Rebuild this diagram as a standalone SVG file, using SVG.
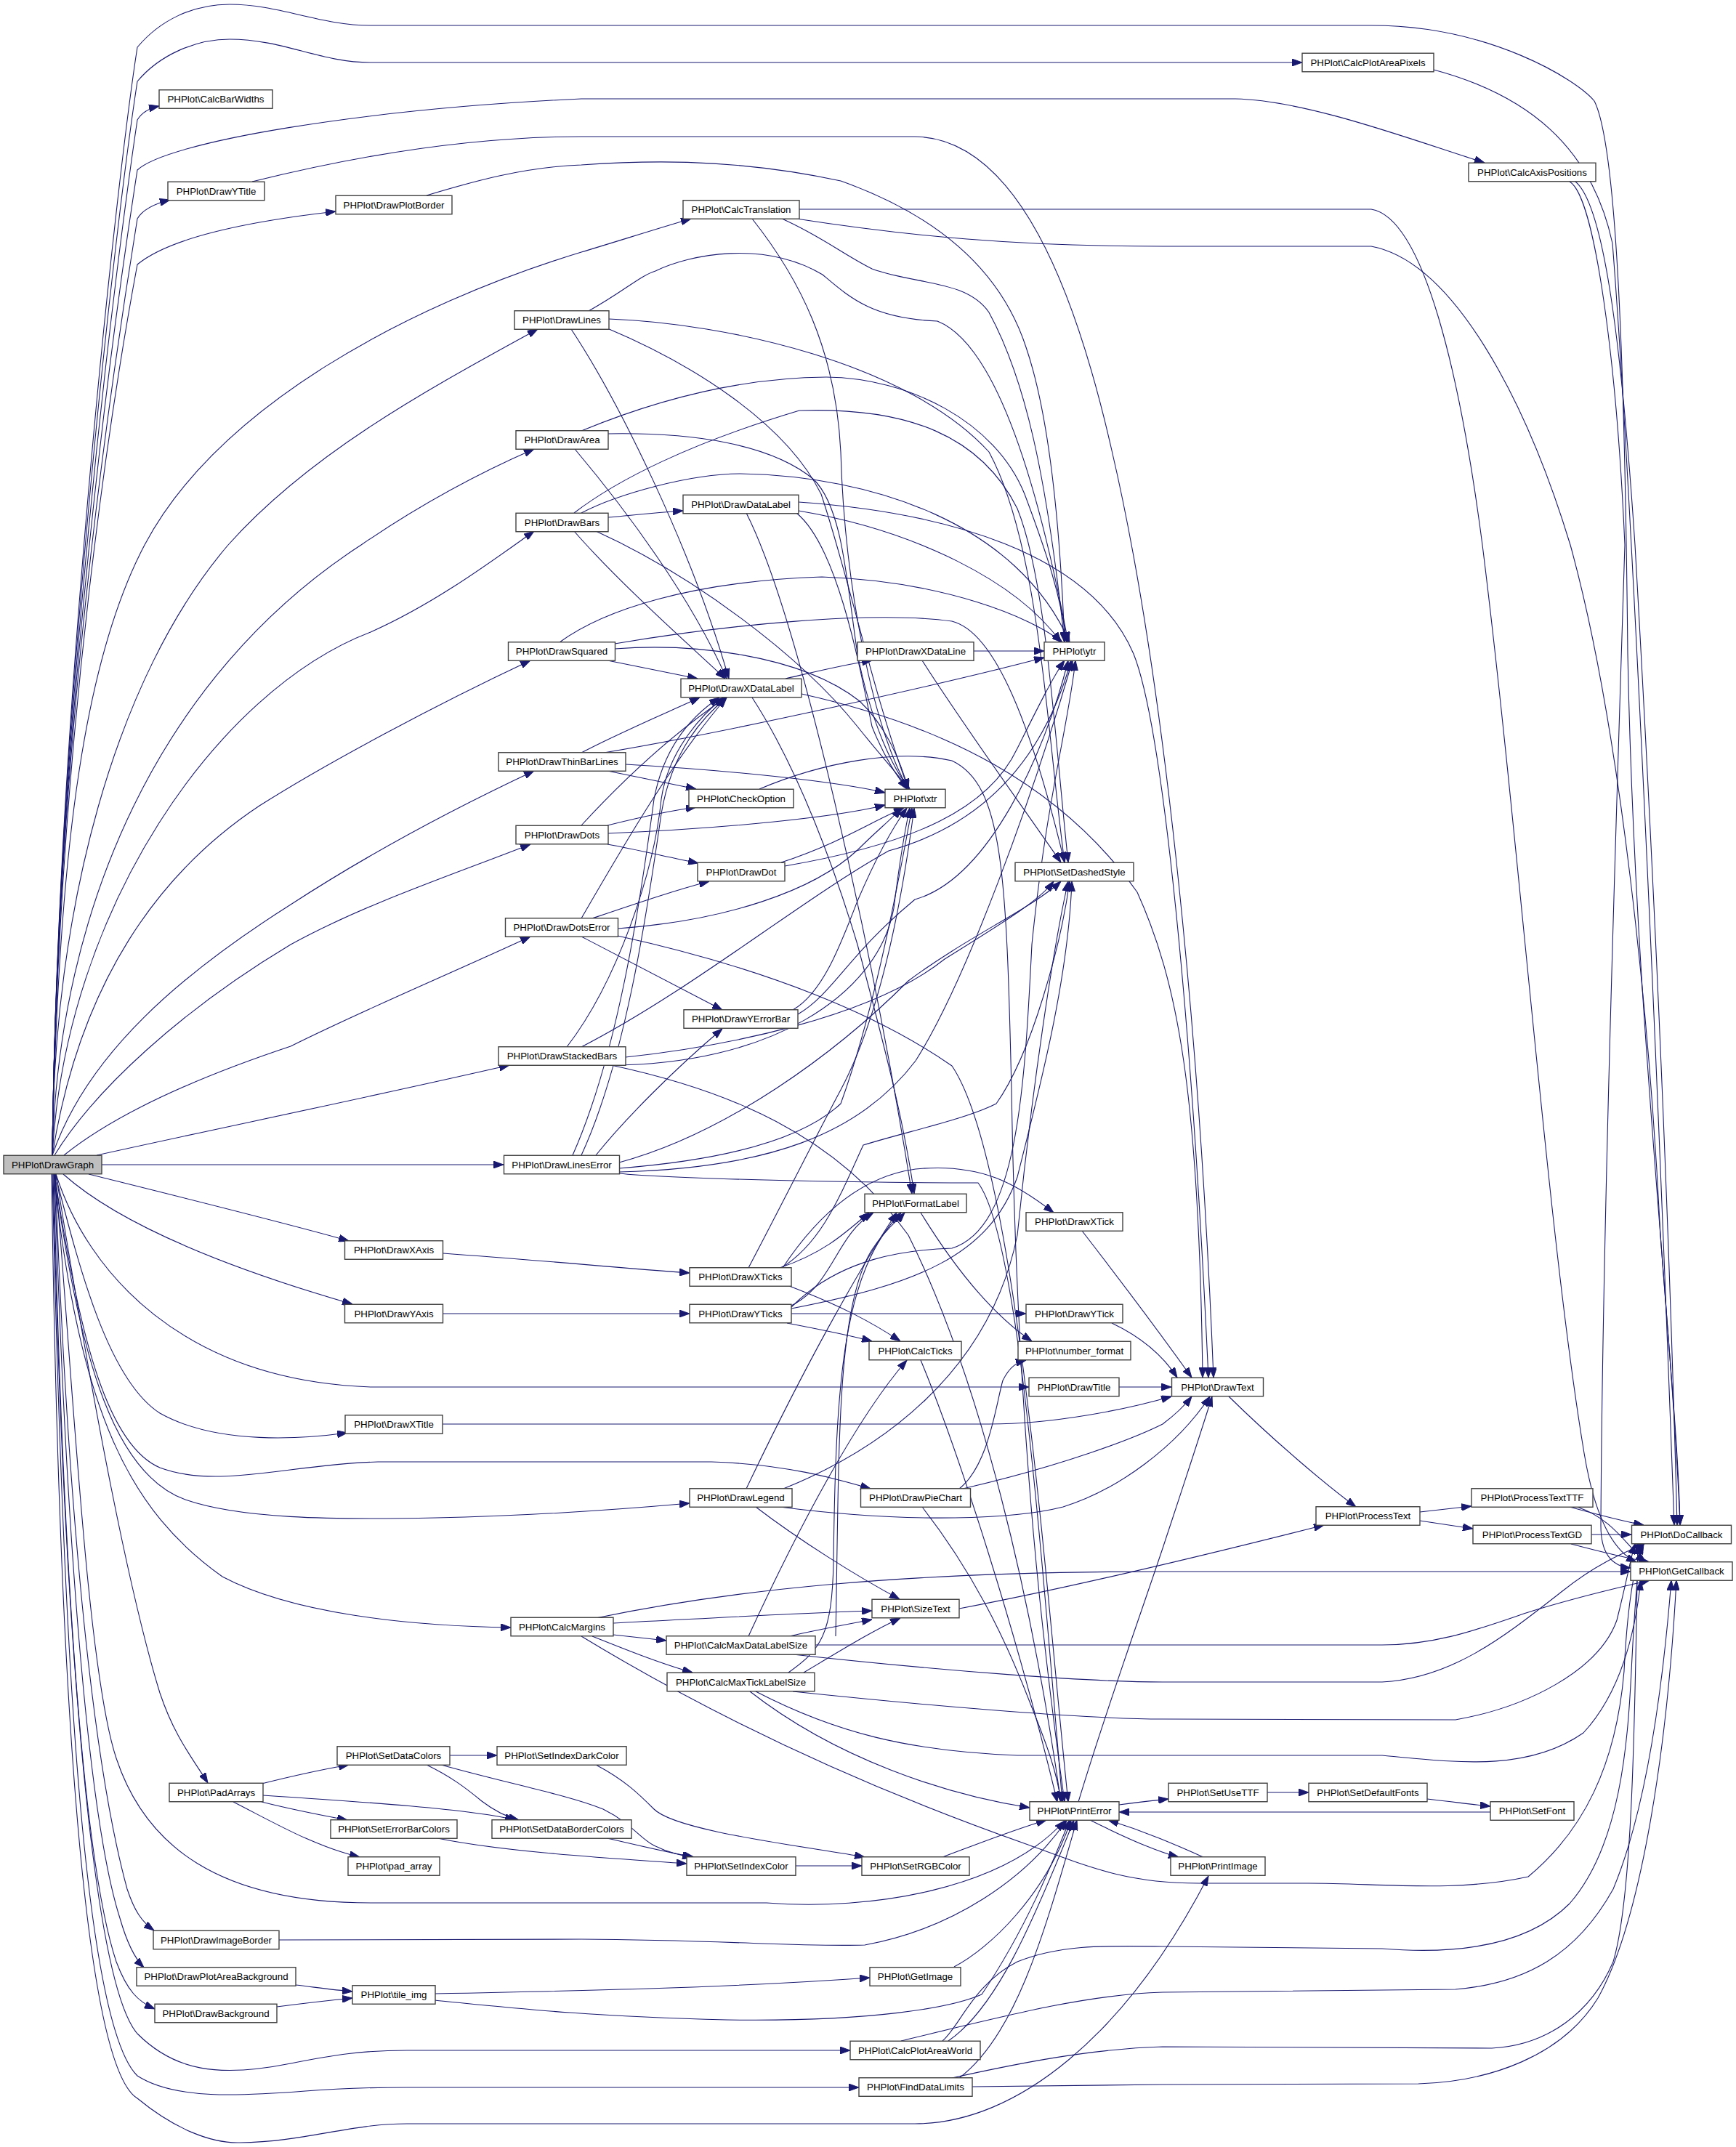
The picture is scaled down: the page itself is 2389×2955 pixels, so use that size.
<svg xmlns="http://www.w3.org/2000/svg" width="2389" height="2955" viewBox="0 0 2389 2955">
<style>
.edges path{fill:none;stroke:#191970;stroke-width:1.1;marker-end:url(#ah)}
.node rect{fill:#ffffff;stroke:#404040;stroke-width:1.4}
.node text{font-family:"Liberation Sans",Arial,sans-serif;font-size:13.3px;fill:#000000;text-anchor:middle}
#n-DrawGraph rect{fill:#bfbfbf}
</style>
<defs>
<marker id="ah" viewBox="0 0 14 10" refX="14" refY="5" markerWidth="14" markerHeight="10" markerUnits="userSpaceOnUse" orient="auto"><path d="M0,0 L14,5 L0,10 z" fill="#191970" stroke="#191970"/></marker>
</defs>
<rect width="2389" height="2955" fill="#ffffff"/>
<g id="edges" class="edges">
<path d="M72,1590 C78,1000 160,250 189,65 C220,28 265,6 316,6 C385,6 440,35 510,35 L1887,35 C2050,35 2170,110 2194,139 C2225,200 2236,500 2240,900 C2250,1400 2300,1800 2312,2099"/>
<path d="M72,1590 C78,1000 160,300 189,112 C220,75 270,54 316,54 C390,54 440,86 510,86 L1792,86"/>
<path d="M72,1590 C78,1000 160,360 189,165 C195,155 205,149 219,146"/>
<path d="M72,1590 C78,1000 160,420 189,234 C230,195 500,150 800,136 L1700,136 C1800,138 1950,195 2043,224"/>
<path d="M72,1590 C78,1000 160,480 189,301 C196,289 210,281 234,275"/>
<path d="M72,1590 C80,1000 160,520 189,364 C230,330 330,306 462,291"/>
<path d="M72,1590 C80,1150 120,900 199,750 C300,560 560,420 800,347 C850,332 900,316 951,301"/>
<path d="M72,1590 C72,1250 160,930 314,750 C430,620 600,530 740,453"/>
<path d="M72,1590 C80,1250 220,930 497,750 C570,700 650,655 735,618"/>
<path d="M72,1590 C90,1250 300,950 510,870 C600,830 680,770 735,731"/>
<path d="M72,1590 C110,1350 220,1200 357,1109 C450,1050 600,970 730,909"/>
<path d="M72,1590 C120,1450 250,1340 400,1245 C500,1180 620,1115 735,1061"/>
<path d="M75,1590 C130,1500 250,1390 400,1300 C500,1245 620,1205 730,1162"/>
<path d="M88,1590 C150,1540 250,1490 400,1440 C500,1390 620,1340 730,1289"/>
<path d="M133,1590 C300,1553 500,1512 701,1466"/>
<path d="M140,1603 L693,1603"/>
<path d="M122,1616 C250,1648 400,1685 480,1708"/>
<path d="M87,1616 C170,1690 330,1750 485,1795"/>
<path d="M77,1616 C120,1750 250,1900 510,1909 L1416,1909"/>
<path d="M76,1616 C110,1750 150,1900 220,1945 C300,1990 420,1980 478,1972"/>
<path d="M75,1616 C110,1850 150,1990 220,2020 C300,2050 400,2015 520,2012 L979,2012 C1080,2015 1150,2035 1198,2049"/>
<path d="M75,1616 C110,1880 160,2030 255,2064 C330,2090 450,2092 600,2089 C750,2086 870,2076 949,2069"/>
<path d="M74,1616 C110,1950 180,2080 306,2170 C400,2220 560,2238 703,2240"/>
<path d="M77,1616 C130,1950 180,2200 220,2330 C240,2390 265,2420 286,2454"/>
<path d="M76,1616 C100,1900 120,2300 160,2420 C200,2540 300,2619 510,2619 L1055,2619 C1200,2630 1380,2600 1465,2506"/>
<path d="M76,1616 C90,2000 120,2400 175,2600 C185,2630 195,2645 212,2657"/>
<path d="M75,1616 C90,2100 120,2500 165,2640 C175,2675 185,2695 198,2708"/>
<path d="M74,1616 C85,2100 110,2550 160,2700 C175,2740 190,2755 213,2765"/>
<path d="M73,1616 C85,2150 120,2720 189,2799 C240,2850 300,2860 400,2840 C460,2828 500,2822 560,2822 L1170,2822"/>
<path d="M72,1616 C85,2200 110,2780 189,2857 C240,2890 330,2885 420,2878 C470,2874 510,2873 560,2873 L1182,2873"/>
<path d="M71,1616 C80,2250 110,2840 189,2888 C240,2930 290,2950 330,2949 C420,2948 480,2923 560,2923 L1259,2923 C1400,2923 1550,2800 1663,2582"/>
<path d="M347,250 C500,212 650,188 800,188 L1259,188 C1400,190 1480,400 1530,620 C1600,920 1650,1400 1670,1896"/>
<path d="M587,269 C650,250 720,230 800,227 C870,222 1000,215 1157,249 C1300,300 1380,380 1412,478 C1440,560 1458,700 1465,884"/>
<path d="M1973,96 C2100,130 2190,200 2219,335 C2240,600 2275,1300 2304,2099"/>
<path d="M2168,250 C2205,280 2230,450 2250,750 C2270,1100 2295,1600 2308,2099"/>
<path d="M2160,250 C2195,270 2225,500 2236,750 C2225,1100 2205,1700 2203,2100 C2203,2140 2220,2156 2244,2158"/>
<path d="M1100,288 L1887,288 C1960,300 2010,520 2040,750 C2090,1150 2130,1700 2180,2000 C2195,2090 2220,2135 2252,2150"/>
<path d="M1096,301 C1250,325 1400,339 1600,339 L1887,339 C2000,360 2100,550 2161,750 C2230,1000 2270,1400 2285,1700 C2300,1900 2310,2000 2312,2099"/>
<path d="M1035,301 C1100,383 1150,480 1157,622 C1162,800 1200,1000 1250,1086"/>
<path d="M1076,301 C1130,325 1160,350 1200,370 C1260,392 1330,385 1361,430 C1410,520 1440,650 1465,884"/>
<path d="M810,428 C860,400 880,380 902,373 C950,350 1050,330 1132,378 C1170,410 1200,438 1290,442 C1360,470 1420,620 1470,884"/>
<path d="M838,439 C1000,445 1250,500 1361,622 C1430,750 1440,1000 1465,1187"/>
<path d="M836,452 C950,500 1080,580 1130,680 C1170,800 1200,950 1250,1086"/>
<path d="M786,453 C850,550 950,750 1003,934"/>
<path d="M800,593 C880,560 1000,520 1137,519 C1250,520 1370,580 1410,680 C1440,760 1460,820 1468,884"/>
<path d="M837,597 C950,595 1060,610 1120,660 C1160,700 1165,800 1180,900 C1200,1000 1230,1060 1252,1086"/>
<path d="M791,618 C860,700 950,820 1000,934"/>
<path d="M837,712 C880,708 910,705 940,703"/>
<path d="M800,706 C850,680 950,652 1019,652 C1200,655 1400,720 1472,884"/>
<path d="M790,706 C850,660 950,610 1100,565 C1250,560 1350,600 1400,700 C1440,800 1450,1000 1470,1187"/>
<path d="M820,731 C950,790 1100,900 1180,1000 C1220,1050 1240,1070 1250,1086"/>
<path d="M790,731 C850,800 940,880 998,934"/>
<path d="M1099,691 C1300,705 1500,760 1560,900 C1600,1000 1640,1400 1663,1896"/>
<path d="M1099,703 C1259,730 1400,800 1460,884"/>
<path d="M1096,706 C1150,750 1180,900 1200,1000 C1220,1050 1240,1075 1248,1086"/>
<path d="M1027,706 C1100,850 1200,1300 1255,1643"/>
<path d="M770,884 C830,840 950,800 1131,794 C1300,800 1420,850 1462,884"/>
<path d="M846,886 C1000,860 1200,840 1310,855 C1370,870 1420,1000 1465,1187"/>
<path d="M836,909 C880,918 920,926 960,934"/>
<path d="M846,893 C950,885 1100,900 1183,965 C1220,1000 1240,1050 1250,1086"/>
<path d="M1081,934 C1120,925 1160,915 1200,909"/>
<path d="M1103,955 C1300,999 1460,1080 1565,1228 C1620,1350 1650,1500 1655,1896"/>
<path d="M1035,960 C1100,1060 1150,1200 1180,1300 C1220,1450 1245,1550 1258,1643"/>
<path d="M1340,896 L1437,896"/>
<path d="M1269,909 C1320,990 1400,1100 1460,1187"/>
<path d="M800,1036 C870,1000 920,980 963,960"/>
<path d="M831,1036 C1000,1008 1300,941 1437,905"/>
<path d="M861,1052 C1000,1060 1150,1075 1218,1091"/>
<path d="M836,1061 C880,1070 920,1078 958,1086"/>
<path d="M1045,1086 C1130,1050 1234,1030 1310,1047 C1380,1080 1385,1200 1392,1500 C1400,2000 1440,2300 1465,2480"/>
<path d="M800,1136 C870,1060 940,1000 999,960"/>
<path d="M836,1136 C880,1125 920,1116 958,1111"/>
<path d="M837,1147 C1000,1140 1150,1125 1218,1108"/>
<path d="M836,1162 C880,1170 920,1180 961,1188"/>
<path d="M1075,1187 C1157,1160 1200,1130 1244,1112"/>
<path d="M1080,1192 C1259,1161 1361,1113 1400,1030 C1430,970 1450,930 1465,909"/>
<path d="M800,1264 C860,1160 930,1040 1000,960"/>
<path d="M815,1264 C880,1242 930,1225 976,1213"/>
<path d="M850,1278 C1000,1267 1120,1226 1180,1170 C1210,1140 1230,1125 1240,1112"/>
<path d="M800,1289 C870,1325 940,1362 994,1390"/>
<path d="M850,1288 C1055,1333 1208,1396 1310,1467 C1400,1600 1440,2200 1470,2480"/>
<path d="M1091,1390 C1132,1367 1157,1300 1180,1240 C1210,1170 1235,1130 1248,1112"/>
<path d="M1098,1396 C1147,1367 1167,1314 1259,1238 C1361,1209 1438,1037 1470,909"/>
<path d="M780,1441 C850,1350 900,1200 910,1100 C920,1030 970,980 996,960"/>
<path d="M800,1441 C953,1362 1100,1240 1223,1171 C1361,1133 1438,1037 1474,909"/>
<path d="M861,1455 C1000,1440 1200,1400 1300,1320 C1380,1270 1430,1240 1450,1213"/>
<path d="M836,1466 C1055,1467 1208,1372 1230,1250 C1240,1170 1248,1130 1252,1112"/>
<path d="M841,1466 C1000,1500 1150,1560 1250,1700 C1350,1900 1420,2200 1460,2480"/>
<path d="M788,1590 C850,1450 880,1250 900,1100 C915,1020 960,980 990,960"/>
<path d="M800,1590 C860,1460 890,1260 910,1120 C925,1030 970,985 1000,960"/>
<path d="M820,1590 C860,1540 930,1470 994,1416"/>
<path d="M852,1608 C1004,1596 1106,1567 1157,1519 C1200,1400 1230,1250 1255,1112"/>
<path d="M852,1613 C1055,1608 1183,1562 1260,1460 C1330,1350 1420,1100 1476,909"/>
<path d="M852,1600 C1000,1560 1150,1450 1250,1350 C1330,1290 1420,1250 1460,1213"/>
<path d="M852,1615 C927,1623 1200,1628 1346,1628 C1400,1700 1430,2100 1462,2480"/>
<path d="M1267,1669 C1310,1739 1361,1806 1420,1846"/>
<path d="M1489,1694 C1540,1760 1600,1840 1640,1896"/>
<path d="M610,1725 C750,1735 850,1745 949,1752"/>
<path d="M610,1808 L949,1808"/>
<path d="M1030,1745 C1080,1650 1130,1550 1157,1500 C1210,1400 1240,1250 1258,1112"/>
<path d="M1073,1745 C1132,1725 1160,1700 1196,1669"/>
<path d="M1075,1745 C1132,1710 1157,1643 1188,1576 C1250,1557 1330,1540 1371,1519 C1420,1450 1460,1300 1472,1213"/>
<path d="M1077,1745 C1120,1680 1180,1620 1260,1609 C1350,1600 1400,1630 1450,1669"/>
<path d="M1086,1770 C1157,1797 1200,1820 1239,1846"/>
<path d="M1089,1797 C1147,1768 1150,1700 1202,1669"/>
<path d="M1089,1799 C1157,1730 1250,1720 1310,1718 C1400,1690 1410,1500 1420,1300 C1440,1100 1470,1000 1480,909"/>
<path d="M1089,1801 C1259,1768 1361,1730 1400,1620 C1430,1500 1470,1350 1475,1213"/>
<path d="M1089,1808 L1412,1808"/>
<path d="M1083,1821 C1130,1830 1170,1838 1200,1846"/>
<path d="M1530,1821 C1570,1840 1600,1865 1620,1896"/>
<path d="M1267,1872 C1320,2000 1400,2250 1455,2480"/>
<path d="M1540,1909 L1612,1909"/>
<path d="M609,1960 L1361,1960 C1450,1960 1550,1940 1612,1922"/>
<path d="M1027,2049 C1106,1883 1180,1750 1234,1669"/>
<path d="M1078,2049 C1208,1997 1361,1892 1400,1700 C1420,1500 1450,1300 1470,1213"/>
<path d="M1040,2074 C1100,2120 1180,2170 1238,2201"/>
<path d="M1073,2074 C1259,2098 1400,2090 1463,2074 C1540,2050 1620,1990 1665,1922"/>
<path d="M1320,2049 C1361,2017 1371,1931 1380,1900 C1390,1880 1400,1875 1412,1872"/>
<path d="M1325,2049 C1463,2017 1560,1980 1600,1960 C1620,1945 1630,1935 1640,1922"/>
<path d="M1269,2074 C1336,2160 1382,2250 1420,2350 C1440,2400 1455,2440 1460,2480"/>
<path d="M1320,2214 C1500,2180 1700,2130 1822,2099"/>
<path d="M1691,1922 C1750,1980 1820,2040 1866,2074"/>
<path d="M1954,2081 L2025,2073"/>
<path d="M1954,2093 L2027,2104"/>
<path d="M2160,2074 C2200,2085 2240,2095 2262,2099"/>
<path d="M2170,2074 C2220,2090 2240,2130 2265,2150"/>
<path d="M2190,2112 L2245,2112"/>
<path d="M2162,2125 C2200,2135 2240,2145 2270,2150"/>
<path d="M844,2234 C1000,2226 1100,2220 1200,2217"/>
<path d="M820,2227 C1004,2189 1234,2163 1600,2163 L2244,2163"/>
<path d="M844,2250 C880,2254 900,2256 917,2258"/>
<path d="M815,2252 C860,2270 910,2290 953,2302"/>
<path d="M800,2252 C1004,2376 1208,2466 1412,2538 C1500,2570 1550,2592 1650,2592 L1801,2592 C1900,2592 2003,2605 2103,2583 C2179,2520 2224,2430 2235,2300 C2240,2200 2250,2150 2262,2125"/>
<path d="M1086,2252 C1130,2242 1170,2235 1200,2229"/>
<path d="M1150,2252 C1155,2000 1150,1800 1200,1720 C1220,1690 1235,1680 1245,1669"/>
<path d="M1030,2252 C1100,2100 1180,1950 1248,1872"/>
<path d="M1122,2264 L1902,2264 C1980,2264 2040,2240 2100,2220 C2180,2195 2230,2185 2270,2175"/>
<path d="M1091,2277 C1300,2300 1500,2315 1600,2315 L1902,2315 C2000,2310 2073,2250 2150,2190 C2200,2150 2240,2135 2263,2125"/>
<path d="M1106,2302 C1160,2270 1200,2245 1239,2227"/>
<path d="M1085,2302 C1130,2270 1145,2250 1147,2150 C1150,1900 1160,1750 1240,1669"/>
<path d="M1032,2328 C1150,2420 1300,2470 1417,2488"/>
<path d="M1091,2328 C1300,2350 1500,2366 1600,2366 L2003,2367 C2100,2350 2200,2300 2225,2230 C2240,2170 2245,2140 2250,2125"/>
<path d="M1040,2328 C1150,2385 1250,2410 1400,2416 L1902,2416 C2000,2425 2100,2440 2179,2385 C2230,2330 2250,2250 2258,2175"/>
<path d="M619,2416 L684,2416"/>
<path d="M587,2429 C620,2445 640,2460 663,2479 C680,2492 695,2500 714,2505"/>
<path d="M607,2429 C700,2455 780,2470 830,2490 C870,2510 880,2530 900,2540 C920,2550 935,2553 953,2556"/>
<path d="M820,2429 C860,2450 880,2470 900,2490 C930,2520 1100,2540 1190,2556"/>
<path d="M360,2455 C400,2445 440,2436 480,2429"/>
<path d="M360,2480 C400,2490 440,2498 478,2505"/>
<path d="M362,2471 C500,2480 650,2490 709,2505"/>
<path d="M321,2480 C380,2510 430,2540 495,2556"/>
<path d="M602,2530 C700,2550 850,2558 945,2565"/>
<path d="M835,2530 C880,2540 920,2550 955,2556"/>
<path d="M1095,2568 L1186,2568"/>
<path d="M1297,2556 C1340,2540 1390,2520 1440,2505"/>
<path d="M1540,2484 C1570,2480 1590,2478 1608,2476"/>
<path d="M1744,2467 L1801,2467"/>
<path d="M1964,2476 C2000,2480 2030,2484 2051,2486"/>
<path d="M2051,2494 L1540,2494"/>
<path d="M1500,2505 C1550,2530 1590,2548 1622,2556"/>
<path d="M1656,2556 C1620,2540 1580,2522 1525,2505"/>
<path d="M1484,2480 C1520,2360 1560,2250 1600,2131 C1630,2040 1650,1980 1668,1922"/>
<path d="M384,2670 L800,2669 C1000,2670 1100,2680 1190,2677 C1310,2655 1412,2587 1468,2505"/>
<path d="M407,2732 C440,2736 460,2739 485,2741"/>
<path d="M381,2762 C420,2757 455,2753 485,2750"/>
<path d="M598,2744 C800,2740 1000,2736 1197,2722"/>
<path d="M598,2753 C700,2763 800,2775 1000,2780 C1200,2783 1310,2763 1351,2745 C1412,2655 1450,2560 1472,2505"/>
<path d="M1313,2707 C1361,2682 1438,2610 1474,2505"/>
<path d="M1305,2809 C1370,2765 1420,2650 1478,2505"/>
<path d="M1297,2809 C1320,2790 1340,2730 1400,2700 C1460,2676 1520,2678 1600,2679 L1902,2682 C2000,2690 2100,2680 2160,2620 C2230,2540 2240,2400 2245,2300 C2250,2200 2255,2150 2258,2125"/>
<path d="M1240,2809 C1400,2770 1500,2745 1600,2742 L2003,2738 C2100,2730 2170,2690 2220,2600 C2270,2480 2290,2300 2300,2175"/>
<path d="M1320,2860 C1400,2800 1440,2650 1482,2505"/>
<path d="M1310,2860 C1400,2840 1500,2820 1600,2817 L2053,2819 C2130,2815 2190,2770 2220,2700 C2250,2600 2250,2300 2254,2125"/>
<path d="M1338,2872 L1600,2869 L1952,2868 C2050,2865 2150,2830 2199,2750 C2260,2640 2295,2400 2307,2175"/>
</g>
<g id="n-DrawGraph" class="node"><rect x="5" y="1590.25" width="135" height="25.5"/><text x="72.5" y="1607.7">PHPlot\DrawGraph</text></g>
<g id="n-CalcBarWidths" class="node"><rect x="219" y="123.75" width="156" height="25.5"/><text x="297" y="141.2">PHPlot\CalcBarWidths</text></g>
<g id="n-DrawYTitle" class="node"><rect x="231" y="250.25" width="133" height="25.5"/><text x="297.5" y="267.7">PHPlot\DrawYTitle</text></g>
<g id="n-DrawPlotBorder" class="node"><rect x="462" y="269.25" width="160" height="25.5"/><text x="542" y="286.7">PHPlot\DrawPlotBorder</text></g>
<g id="n-CalcPlotAreaPixels" class="node"><rect x="1792" y="73.25" width="181" height="25.5"/><text x="1882.5" y="90.7">PHPlot\CalcPlotAreaPixels</text></g>
<g id="n-CalcAxisPositions" class="node"><rect x="2021" y="224.25" width="175" height="25.5"/><text x="2108.5" y="241.7">PHPlot\CalcAxisPositions</text></g>
<g id="n-CalcTranslation" class="node"><rect x="940" y="275.75" width="160" height="25.5"/><text x="1020" y="293.2">PHPlot\CalcTranslation</text></g>
<g id="n-DrawLines" class="node"><rect x="708" y="427.75" width="130" height="25.5"/><text x="773" y="445.2">PHPlot\DrawLines</text></g>
<g id="n-DrawArea" class="node"><rect x="710" y="592.75" width="127" height="25.5"/><text x="773.5" y="610.2">PHPlot\DrawArea</text></g>
<g id="n-DrawBars" class="node"><rect x="710" y="706.25" width="127" height="25.5"/><text x="773.5" y="723.7">PHPlot\DrawBars</text></g>
<g id="n-DrawDataLabel" class="node"><rect x="940" y="681.25" width="159" height="25.5"/><text x="1019.5" y="698.7">PHPlot\DrawDataLabel</text></g>
<g id="n-DrawSquared" class="node"><rect x="699.5" y="883.75" width="147" height="25.5"/><text x="773" y="901.2">PHPlot\DrawSquared</text></g>
<g id="n-DrawXDataLabel" class="node"><rect x="937" y="934.25" width="166" height="25.5"/><text x="1020" y="951.7">PHPlot\DrawXDataLabel</text></g>
<g id="n-DrawXDataLine" class="node"><rect x="1180" y="883.75" width="160" height="25.5"/><text x="1260" y="901.2">PHPlot\DrawXDataLine</text></g>
<g id="n-ytr" class="node"><rect x="1437" y="883.75" width="83" height="25.5"/><text x="1478.5" y="901.2">PHPlot\ytr</text></g>
<g id="n-DrawThinBarLines" class="node"><rect x="686" y="1035.75" width="175" height="25.5"/><text x="773.5" y="1053.2">PHPlot\DrawThinBarLines</text></g>
<g id="n-CheckOption" class="node"><rect x="948" y="1086.25" width="144" height="25.5"/><text x="1020" y="1103.7">PHPlot\CheckOption</text></g>
<g id="n-xtr" class="node"><rect x="1218" y="1086.25" width="83" height="25.5"/><text x="1259.5" y="1103.7">PHPlot\xtr</text></g>
<g id="n-DrawDots" class="node"><rect x="710" y="1136.25" width="127" height="25.5"/><text x="773.5" y="1153.7">PHPlot\DrawDots</text></g>
<g id="n-DrawDot" class="node"><rect x="960" y="1187.25" width="120" height="25.5"/><text x="1020" y="1204.7">PHPlot\DrawDot</text></g>
<g id="n-SetDashedStyle" class="node"><rect x="1397" y="1187.25" width="163" height="25.5"/><text x="1478.5" y="1204.7">PHPlot\SetDashedStyle</text></g>
<g id="n-DrawDotsError" class="node"><rect x="695.5" y="1263.75" width="155" height="25.5"/><text x="773" y="1281.2">PHPlot\DrawDotsError</text></g>
<g id="n-DrawYErrorBar" class="node"><rect x="941" y="1389.75" width="157" height="25.5"/><text x="1019.5" y="1407.2">PHPlot\DrawYErrorBar</text></g>
<g id="n-DrawStackedBars" class="node"><rect x="686" y="1440.75" width="175" height="25.5"/><text x="773.5" y="1458.2">PHPlot\DrawStackedBars</text></g>
<g id="n-DrawLinesError" class="node"><rect x="693.5" y="1590.25" width="159" height="25.5"/><text x="773" y="1607.7">PHPlot\DrawLinesError</text></g>
<g id="n-FormatLabel" class="node"><rect x="1190" y="1643.25" width="140" height="25.5"/><text x="1260" y="1660.7">PHPlot\FormatLabel</text></g>
<g id="n-DrawXTick" class="node"><rect x="1412" y="1668.75" width="133" height="25.5"/><text x="1478.5" y="1686.2">PHPlot\DrawXTick</text></g>
<g id="n-DrawXAxis" class="node"><rect x="474.5" y="1707.75" width="135" height="25.5"/><text x="542" y="1725.2">PHPlot\DrawXAxis</text></g>
<g id="n-DrawXTicks" class="node"><rect x="949" y="1744.75" width="140" height="25.5"/><text x="1019" y="1762.2">PHPlot\DrawXTicks</text></g>
<g id="n-DrawYAxis" class="node"><rect x="474.5" y="1795.25" width="135" height="25.5"/><text x="542" y="1812.7">PHPlot\DrawYAxis</text></g>
<g id="n-DrawYTicks" class="node"><rect x="949" y="1795.25" width="140" height="25.5"/><text x="1019" y="1812.7">PHPlot\DrawYTicks</text></g>
<g id="n-DrawYTick" class="node"><rect x="1412" y="1795.25" width="133" height="25.5"/><text x="1478.5" y="1812.7">PHPlot\DrawYTick</text></g>
<g id="n-CalcTicks" class="node"><rect x="1196" y="1846.25" width="127" height="25.5"/><text x="1259.5" y="1863.7">PHPlot\CalcTicks</text></g>
<g id="n-number_format" class="node"><rect x="1401" y="1846.25" width="155" height="25.5"/><text x="1478.5" y="1863.7">PHPlot\number_format</text></g>
<g id="n-DrawTitle" class="node"><rect x="1416" y="1896.25" width="124" height="25.5"/><text x="1478" y="1913.7">PHPlot\DrawTitle</text></g>
<g id="n-DrawText" class="node"><rect x="1612.5" y="1896.25" width="126" height="25.5"/><text x="1675.5" y="1913.7">PHPlot\DrawText</text></g>
<g id="n-DrawXTitle" class="node"><rect x="475" y="1947.75" width="134" height="25.5"/><text x="542" y="1965.2">PHPlot\DrawXTitle</text></g>
<g id="n-DrawLegend" class="node"><rect x="949" y="2048.75" width="141" height="25.5"/><text x="1019.5" y="2066.2">PHPlot\DrawLegend</text></g>
<g id="n-DrawPieChart" class="node"><rect x="1184.5" y="2048.75" width="151" height="25.5"/><text x="1260" y="2066.2">PHPlot\DrawPieChart</text></g>
<g id="n-ProcessTextTTF" class="node"><rect x="2025" y="2048.75" width="167" height="25.5"/><text x="2108.5" y="2066.2">PHPlot\ProcessTextTTF</text></g>
<g id="n-ProcessText" class="node"><rect x="1811" y="2073.75" width="143" height="25.5"/><text x="1882.5" y="2091.2">PHPlot\ProcessText</text></g>
<g id="n-ProcessTextGD" class="node"><rect x="2027" y="2099.25" width="163" height="25.5"/><text x="2108.5" y="2116.7">PHPlot\ProcessTextGD</text></g>
<g id="n-DoCallback" class="node"><rect x="2245.5" y="2099.25" width="137" height="25.5"/><text x="2314" y="2116.7">PHPlot\DoCallback</text></g>
<g id="n-GetCallback" class="node"><rect x="2244" y="2149.75" width="140" height="25.5"/><text x="2314" y="2167.2">PHPlot\GetCallback</text></g>
<g id="n-SizeText" class="node"><rect x="1200" y="2201.25" width="120" height="25.5"/><text x="1260" y="2218.7">PHPlot\SizeText</text></g>
<g id="n-CalcMargins" class="node"><rect x="703" y="2226.25" width="141" height="25.5"/><text x="773.5" y="2243.7">PHPlot\CalcMargins</text></g>
<g id="n-CalcMaxDataLabelSize" class="node"><rect x="917" y="2251.75" width="205" height="25.5"/><text x="1019.5" y="2269.2">PHPlot\CalcMaxDataLabelSize</text></g>
<g id="n-CalcMaxTickLabelSize" class="node"><rect x="918" y="2302.25" width="203" height="25.5"/><text x="1019.5" y="2319.7">PHPlot\CalcMaxTickLabelSize</text></g>
<g id="n-SetDataColors" class="node"><rect x="464" y="2403.75" width="155" height="25.5"/><text x="541.5" y="2421.2">PHPlot\SetDataColors</text></g>
<g id="n-SetIndexDarkColor" class="node"><rect x="684" y="2403.75" width="178" height="25.5"/><text x="773" y="2421.2">PHPlot\SetIndexDarkColor</text></g>
<g id="n-PadArrays" class="node"><rect x="233" y="2454.25" width="129" height="25.5"/><text x="297.5" y="2471.7">PHPlot\PadArrays</text></g>
<g id="n-SetUseTTF" class="node"><rect x="1608" y="2454.25" width="136" height="25.5"/><text x="1676" y="2471.7">PHPlot\SetUseTTF</text></g>
<g id="n-SetDefaultFonts" class="node"><rect x="1801" y="2454.25" width="163" height="25.5"/><text x="1882.5" y="2471.7">PHPlot\SetDefaultFonts</text></g>
<g id="n-PrintError" class="node"><rect x="1417" y="2479.75" width="123" height="25.5"/><text x="1478.5" y="2497.2">PHPlot\PrintError</text></g>
<g id="n-SetFont" class="node"><rect x="2051" y="2479.75" width="115" height="25.5"/><text x="2108.5" y="2497.2">PHPlot\SetFont</text></g>
<g id="n-SetErrorBarColors" class="node"><rect x="455" y="2504.75" width="174" height="25.5"/><text x="542" y="2522.2">PHPlot\SetErrorBarColors</text></g>
<g id="n-SetDataBorderColors" class="node"><rect x="677" y="2504.75" width="192" height="25.5"/><text x="773" y="2522.2">PHPlot\SetDataBorderColors</text></g>
<g id="n-pad_array" class="node"><rect x="479" y="2555.75" width="126" height="25.5"/><text x="542" y="2573.2">PHPlot\pad_array</text></g>
<g id="n-SetIndexColor" class="node"><rect x="945" y="2555.75" width="150" height="25.5"/><text x="1020" y="2573.2">PHPlot\SetIndexColor</text></g>
<g id="n-SetRGBColor" class="node"><rect x="1186" y="2555.75" width="148" height="25.5"/><text x="1260" y="2573.2">PHPlot\SetRGBColor</text></g>
<g id="n-PrintImage" class="node"><rect x="1611" y="2555.75" width="130" height="25.5"/><text x="1676" y="2573.2">PHPlot\PrintImage</text></g>
<g id="n-DrawImageBorder" class="node"><rect x="211" y="2657.25" width="173" height="25.5"/><text x="297.5" y="2674.7">PHPlot\DrawImageBorder</text></g>
<g id="n-DrawPlotAreaBackground" class="node"><rect x="188" y="2707.75" width="219" height="25.5"/><text x="297.5" y="2725.2">PHPlot\DrawPlotAreaBackground</text></g>
<g id="n-GetImage" class="node"><rect x="1197" y="2707.75" width="125" height="25.5"/><text x="1259.5" y="2725.2">PHPlot\GetImage</text></g>
<g id="n-tile_img" class="node"><rect x="485" y="2732.75" width="114" height="25.5"/><text x="542" y="2750.2">PHPlot\tile_img</text></g>
<g id="n-DrawBackground" class="node"><rect x="213" y="2758.25" width="168" height="25.5"/><text x="297" y="2775.7">PHPlot\DrawBackground</text></g>
<g id="n-CalcPlotAreaWorld" class="node"><rect x="1170" y="2809.25" width="179" height="25.5"/><text x="1259.5" y="2826.7">PHPlot\CalcPlotAreaWorld</text></g>
<g id="n-FindDataLimits" class="node"><rect x="1182" y="2859.75" width="156" height="25.5"/><text x="1260" y="2877.2">PHPlot\FindDataLimits</text></g>
</svg>
